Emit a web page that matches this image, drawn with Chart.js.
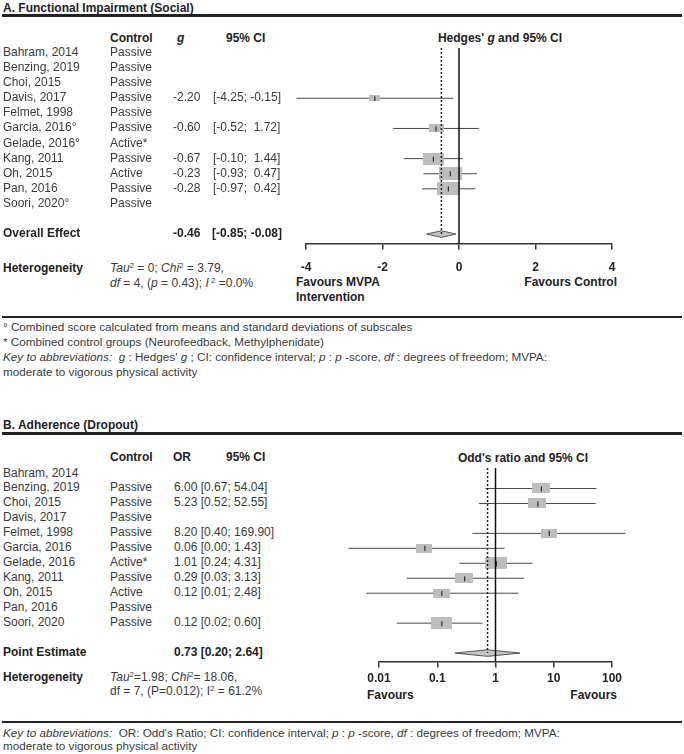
<!DOCTYPE html>
<html>
<head>
<meta charset="utf-8">
<script src="https://cdn.jsdelivr.net/npm/chart.js@4.4.0/dist/chart.umd.min.js"></script>
<style>
body { margin: 0; width: 684px; height: 754px; background: #fff; position: relative; overflow: hidden;
       font-family: "Liberation Sans", Arial, sans-serif; color: #3a3a3a; }
.t { position: absolute; font-size: 12px; line-height: 14px; white-space: pre; }
.f { font-size: 11.7px; }
.b { font-weight: bold; color: #222; }
.c { text-align: center; width: 220px; }
.r { text-align: right; width: 160px; }
.rule { position: absolute; left: 2px; width: 680px; background: #222; }
sup { font-size: 8px; position: relative; top: -4px; vertical-align: baseline; line-height: 0; }
canvas { position: absolute; }
#chartA { left: 280px; top: 40px; width: 360px; height: 246px; }
#chartB { left: 300px; top: 460px; width: 340px; height: 230px; }
</style>
</head>
<body>

<!-- panel A -->
<div class="t b" style="left:3px;top:1px">A. Functional Impairment (Social)</div>
<div class="rule" style="top:14px;height:2.5px"></div>
<div class="t b" style="left:110px;top:31px">Control</div>
<div class="t b" style="left:177px;top:31px"><i>g</i></div>
<div class="t b" style="left:226px;top:31px">95% CI</div>
<div class="t b c" style="left:390px;top:31px">Hedges' <i>g</i> and 95% CI</div>

<div class="t b" style="left:3px;top:261px">Heterogeneity</div>
<div class="t" style="left:110px;top:261px"><i>Tau</i><sup>2</sup> = 0; <i>Chi</i><sup>2</sup> = 3.79,</div>
<div class="t" style="left:110px;top:276px"><i>df</i> = 4, (<i>p</i> = 0.43); <i>I</i><sup> 2</sup> =0.0%</div>
<div class="t b" style="left:296px;top:275px">Favours MVPA</div>
<div class="t b" style="left:296px;top:290px">Intervention</div>
<div class="t b r" style="left:457px;top:275px">Favours Control</div>

<div class="rule" style="top:316px;height:2px"></div>
<div class="t f" style="left:3px;top:320px">° Combined score calculated from means and standard deviations of subscales</div>
<div class="t f" style="left:3px;top:335px">* Combined control groups (Neurofeedback, Methylphenidate)</div>
<div class="t f" style="left:3px;top:350px"><i>Key to abbreviations:</i>  <i>g</i> : Hedges' <i>g</i> ; CI: confidence interval; <i>p</i> : <i>p</i> -score, <i>df</i> : degrees of freedom; MVPA:</div>
<div class="t f" style="left:3px;top:365px">moderate to vigorous physical activity</div>

<!-- panel B -->
<div class="t b" style="left:3px;top:418px">B. Adherence (Dropout)</div>
<div class="rule" style="top:432px;height:2.5px"></div>
<div class="t b" style="left:110px;top:450px">Control</div>
<div class="t b" style="left:173px;top:450px">OR</div>
<div class="t b" style="left:226px;top:450px">95% CI</div>
<div class="t b c" style="left:413px;top:451px">Odd's ratio and 95% CI</div>

<div class="t b" style="left:3px;top:670px">Heterogeneity</div>
<div class="t" style="left:110px;top:670px"><i>Tau</i><sup>2</sup>=1.98; <i>Chi</i><sup>2</sup>= 18.06,</div>
<div class="t" style="left:110px;top:684px">df = 7, (P=0.012); I<sup>2</sup> = 61.2%</div>
<div class="t b" style="left:367px;top:688px">Favours</div>
<div class="t b r" style="left:457px;top:688px">Favours</div>

<div class="rule" style="top:721px;height:2px"></div>
<div class="t f" style="left:3px;top:726px"><i>Key to abbreviations:</i>  OR: Odd's Ratio; CI: confidence interval; <i>p</i> : <i>p</i> -score, <i>df</i> : degrees of freedom; MVPA:</div>
<div class="t f" style="left:3px;top:739px">moderate to vigorous physical activity</div>

<canvas id="chartA" width="360" height="246"></canvas>
<canvas id="chartB" width="340" height="230"></canvas>

<script>
// A. Functional impairment (social) - Hedges' g
const studiesA = ['Bahram, 2014', 'Benzing, 2019', 'Choi, 2015', 'Davis, 2017', 'Felmet, 1998', 'Garcia, 2016°',
                  'Gelade, 2016°', 'Kang, 2011', 'Oh, 2015', 'Pan, 2016', 'Soori, 2020°'];
const controlA = ['Passive', 'Passive', 'Passive', 'Passive', 'Passive', 'Passive', 'Active*', 'Passive', 'Active', 'Passive', 'Passive'];
const gA = [null, null, null, -2.20, null, -0.60, null, -0.67, -0.23, -0.28, null];
const ciTextA = ['', '', '', '[-4.25; -0.15]', '', '[-0.52;  1.72]', '', '[-0.10;  1.44]', '[-0.93;  0.47]', '[-0.97;  0.42]', ''];
const loA = [null, null, null, -4.25, null, -1.72, null, -1.44, -0.93, -0.97, null];
const hiA = [null, null, null, -0.15, null, 0.52, null, 0.10, 0.47, 0.42, null];
const weightA = [null, null, null, 11, null, 15, null, 21, 23, 23, null];
const pooledA = [-0.46, -0.85, -0.08];
const ticksA = [-4, -2, 0, 2, 4];

// B. Adherence (dropout) - odds ratio
const studiesB = ['Bahram, 2014', 'Benzing, 2019', 'Choi, 2015', 'Davis, 2017', 'Felmet, 1998', 'Garcia, 2016',
                  'Gelade, 2016', 'Kang, 2011', 'Oh, 2015', 'Pan, 2016', 'Soori, 2020'];
const controlB = ['', 'Passive', 'Passive', 'Passive', 'Passive', 'Passive', 'Active*', 'Passive', 'Active', 'Passive', 'Passive'];
const orB = [null, 6.00, 5.23, null, 8.20, 0.06, 1.01, 0.29, 0.12, null, 0.12];
const loB = [null, 0.67, 0.52, null, 0.40, 0.003, 0.24, 0.03, 0.006, null, 0.02];
const hiB = [null, 54.04, 52.55, null, 169.90, 1.43, 4.31, 3.13, 2.48, null, 0.60];
const weightB = [null, 18, 18, null, 16, 16, 22, 18, 17, null, 21];
const pooledB = [0.73, 0.20, 2.64];
const ticksB = [0.01, 0.1, 1, 10, 100];
const tickLabelsB = ['0.01', '0.1', '1', '10', '100'];

Chart.defaults.font.family = '"Liberation Sans", Arial, sans-serif';

function boxStyle(w) {
    var c = document.createElement('canvas');
    var bw = Math.round(w), bh = Math.round(w * 0.55);
    c.width = bw;
    c.height = bh;
    var g = c.getContext('2d');
    g.fillStyle = '#bdbdbd';
    g.fillRect(0, 0, bw, bh);
    g.fillStyle = '#111';
    g.fillRect(Math.floor(bw / 2), Math.round(bh / 2 - 2.5), 1, 5);
    return c;
}

function forest(id, est, lo, hi, wt, pooled, nullValue, xScale, yMin, yMax, pad) {
    var rows = est.map((v, i) => i).filter(i => est[i] !== null);
    var sumRow = est.length + 1;
    var styles = rows.map(i => boxStyle(wt[i]));

    var datasets = rows.map(i => ({
        type: 'line',
        data: [{x: lo[i], y: i}, {x: hi[i], y: i}],
        borderColor: '#4a4a4a',
        borderWidth: 1,
        pointRadius: 0,
        clip: false,
        order: 5
    }));
    datasets.push({
        type: 'line',
        data: [{x: pooled[1], y: sumRow}, {x: pooled[0], y: sumRow - 0.22}, {x: pooled[2], y: sumRow},
               {x: pooled[0], y: sumRow + 0.22}, {x: pooled[1], y: sumRow}],
        fill: 'shape',
        backgroundColor: '#c4c4c4',
        borderColor: '#555',
        borderWidth: 1,
        pointRadius: 0,
        order: 3
    });
    datasets.push({
        type: 'scatter',
        data: rows.map(i => ({x: est[i], y: i})),
        pointStyle: ctx => styles[ctx.dataIndex],
        pointRadius: 3,
        order: 2
    });
    // line of no effect
    datasets.push({
        type: 'line',
        data: [{x: nullValue, y: yMin}, {x: nullValue, y: yMax}],
        borderColor: '#111',
        borderWidth: 1.5,
        pointRadius: 0,
        order: 1
    });
    // pooled estimate
    datasets.push({
        type: 'line',
        data: [{x: pooled[0], y: yMin}, {x: pooled[0], y: sumRow}],
        borderColor: '#222',
        borderWidth: 1.5,
        borderDash: [2, 2],
        pointRadius: 0,
        order: 0
    });

    return new Chart(document.getElementById(id), {
        type: 'scatter',
        data: {datasets: datasets},
        options: {
            responsive: false,
            animation: false,
            events: [],
            layout: {padding: pad},
            plugins: {
                legend: {display: false},
                tooltip: {enabled: false}
            },
            scales: {
                x: Object.assign({
                    border: {display: true, color: '#333', width: 1.5},
                    grid: {drawOnChartArea: false, drawTicks: true, tickLength: 6, color: '#333', lineWidth: 1.5}
                }, xScale),
                y: {
                    type: 'linear',
                    display: false,
                    reverse: true,
                    min: yMin,
                    max: yMax
                }
            }
        }
    });
}

var chartA = forest('chartA', gA, loA, hiA, weightA, pooledA, 0, {
    type: 'linear',
    min: -4,
    max: 4,
    afterBuildTicks: s => { s.ticks = ticksA.map(v => ({value: v})); },
    ticks: {font: {weight: 'bold', size: 12}, color: '#222', padding: 11, maxRotation: 0, autoSkip: false,
            callback: (v, i) => String(ticksA[i])}
}, -0.33, 12.63, {left: 26, right: 28, top: 8, bottom: 0});

var chartB = forest('chartB', orB, loB, hiB, weightB, pooledB, 1, {
    type: 'logarithmic',
    min: 0.01,
    max: 100,
    afterBuildTicks: s => { s.ticks = ticksB.map(v => ({value: v})); },
    ticks: {font: {weight: 'bold', size: 12}, color: '#222', padding: 4, maxRotation: 0, autoSkip: false,
            callback: (v, i) => tickLabelsB[i]}
}, -0.37, 12.57, {left: 79, right: 28, top: 8, bottom: 0});

function addText(x, y, html, cls) {
    var d = document.createElement('div');
    d.className = 't' + (cls ? ' ' + cls : '');
    d.style.left = x + 'px';
    d.style.top = y + 'px';
    d.innerHTML = html;
    document.body.appendChild(d);
}

// table rows, placed on the chart's own row scale
function rowY(chart, canvasTop, row) {
    return Math.round(canvasTop + chart.scales.y.getPixelForValue(row) - 8);
}

studiesA.forEach((s, i) => {
    var y = rowY(chartA, 40, i);
    addText(3, y, s);
    addText(110, y, controlA[i]);
    if (gA[i] !== null) {
        addText(173, y, gA[i].toFixed(2));
        addText(213, y, ciTextA[i]);
    }
});
var ySumA = rowY(chartA, 40, studiesA.length + 1);
addText(3, ySumA, 'Overall Effect', 'b');
addText(173, ySumA, pooledA[0].toFixed(2), 'b');
addText(212, ySumA, '[' + pooledA[1].toFixed(2) + '; ' + pooledA[2].toFixed(2) + ']', 'b');

studiesB.forEach((s, i) => {
    var y = rowY(chartB, 460, i);
    addText(3, y, s);
    addText(110, y, controlB[i]);
    if (orB[i] !== null) {
        addText(174, y, orB[i].toFixed(2) + ' [' + loB[i].toFixed(2) + '; ' + hiB[i].toFixed(2) + ']');
    }
});
var ySumB = rowY(chartB, 460, studiesB.length + 1);
addText(3, ySumB, 'Point Estimate', 'b');
addText(174, ySumB, pooledB[0].toFixed(2) + ' [' + pooledB[1].toFixed(2) + '; ' + pooledB[2].toFixed(2) + ']', 'b');
</script>
</body>
</html>
